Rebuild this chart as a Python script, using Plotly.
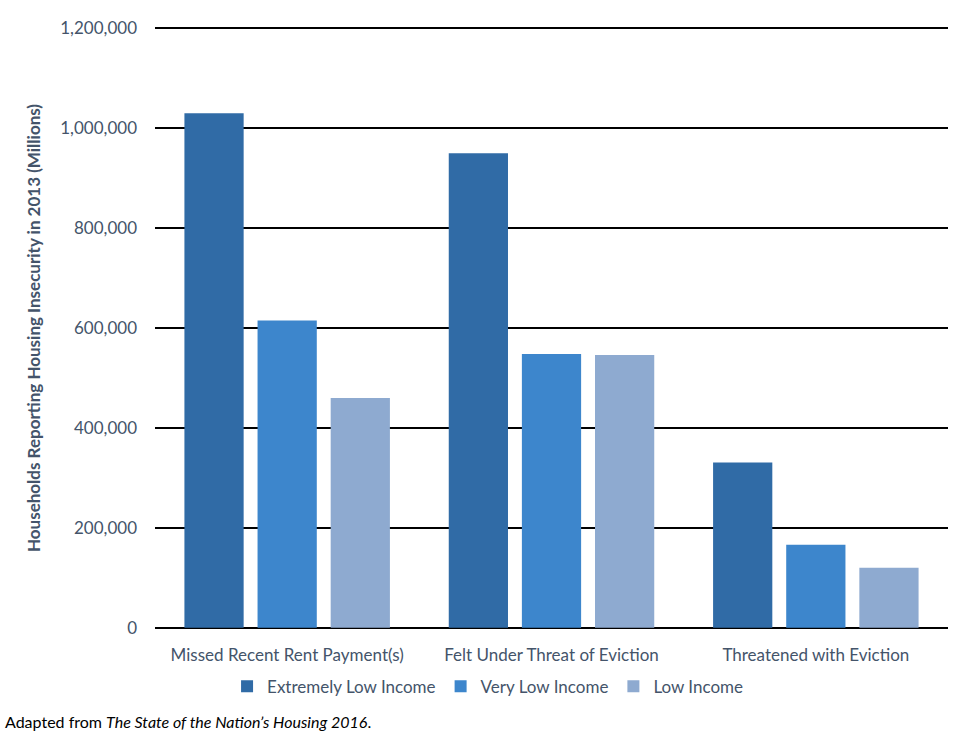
import plotly.graph_objects as go

categories = ["Missed Recent Rent Payment(s)", "Felt Under Threat of Eviction", "Threatened with Eviction"]
series_names = ["Extremely Low Income", "Very Low Income", "Low Income"]
extremely_low = [1030000, 950000, 331000]
very_low = [615000, 548000, 166000]
low = [460000, 546000, 120000]
y_ticks = [0, 200000, 400000, 600000, 800000, 1000000, 1200000]
y_tick_labels = ["0", "200,000", "400,000", "600,000", "800,000", "1,000,000", "1,200,000"]

colors = ["#306ba6", "#3d86cc", "#8eaad0"]
text_color = "#44546a"
font_family = "Lato, 'Open Sans', sans-serif"

fig = go.Figure()
for name, vals, col in zip(series_names, [extremely_low, very_low, low], colors):
    fig.add_trace(go.Bar(
        x=categories, y=vals, name=name,
        marker=dict(color=col, line=dict(width=0)),
    ))

fig.update_layout(
    width=975, height=735,
    margin=dict(l=155, r=27, t=27, b=106),
    paper_bgcolor="white", plot_bgcolor="white",
    barmode="group", bargap=0.17, bargroupgap=0.19,
    font=dict(family=font_family, size=17, color=text_color),
    showlegend=True,
    legend=dict(orientation="h", x=0.42, xanchor="center", y=-0.096, yanchor="middle",
                font=dict(size=17, color=text_color), itemwidth=30, traceorder="normal"),
    xaxis=dict(showgrid=False, showline=False, zeroline=False, ticks="",
               ticklabelstandoff=14, tickfont=dict(size=17, color=text_color), automargin=False),
    yaxis=dict(range=[-2500, 1202500], tickvals=y_ticks, ticktext=y_tick_labels,
               showgrid=True, gridcolor="black", gridwidth=2, zeroline=False, showline=False,
               ticks="", ticklabelstandoff=17, tickfont=dict(size=17, color=text_color),
               automargin=False,
               title=dict(text="<b>Households Reporting Housing Insecurity in 2013 (Millions)</b>",
                          font=dict(size=17, color=text_color), standoff=15)),
    annotations=[dict(
        xref="paper", yref="paper", x=-0.192, y=-0.154, xanchor="left", yanchor="middle",
        text="Adapted from <i>The State of the Nation\u2019s Housing 2016</i>.",
        showarrow=False, font=dict(size=16, color="black", family=font_family),
    )],
)

fig.write_html("out.html", config={"displayModeBar": False},
               post_script="document.body.style.margin='0';document.body.style.overflow='hidden';")
